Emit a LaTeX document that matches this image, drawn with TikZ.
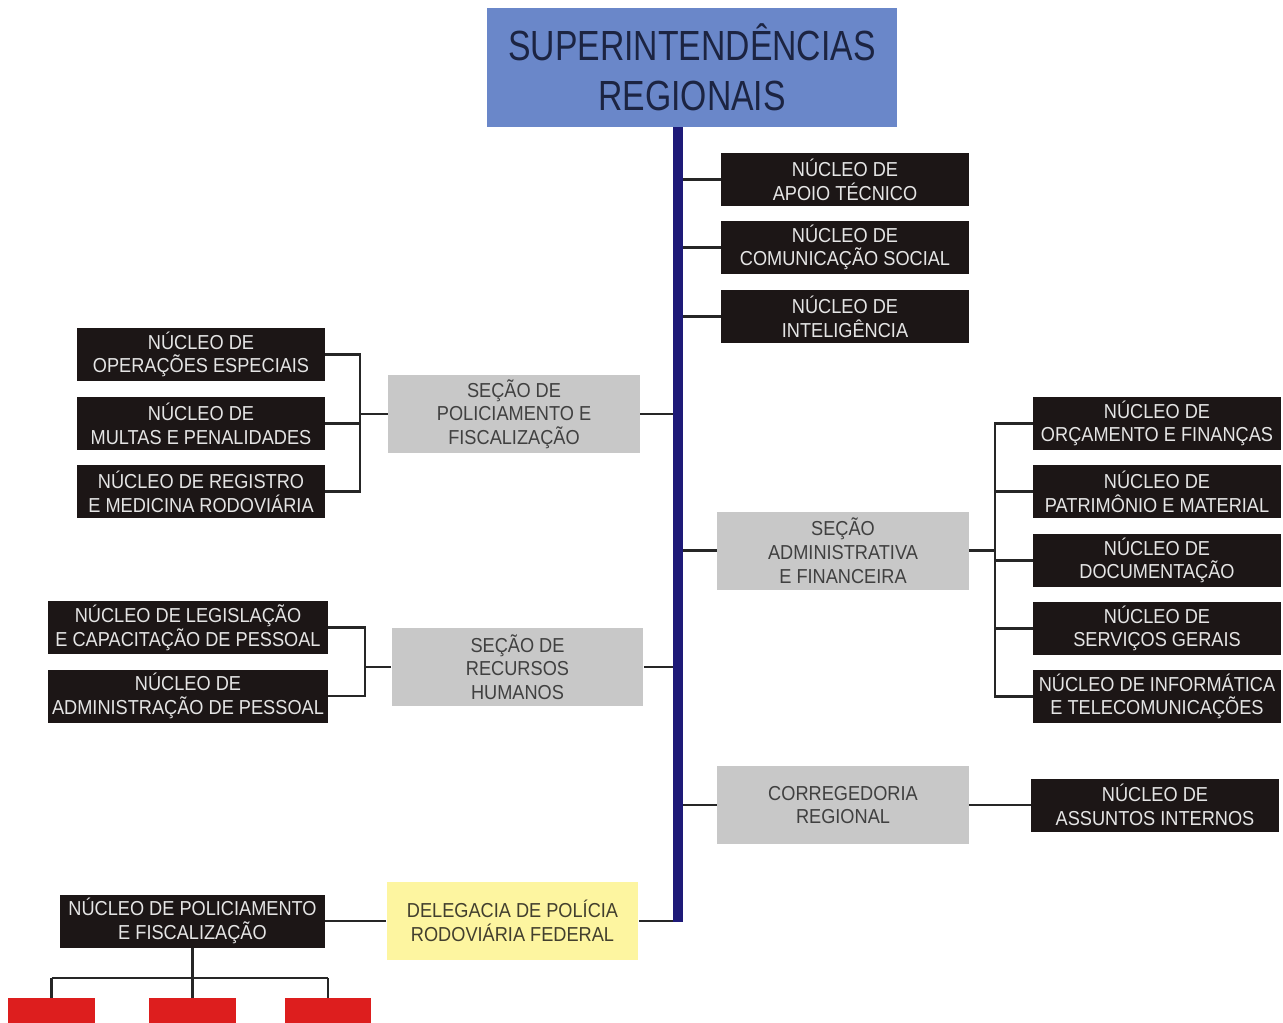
\documentclass[tikz,border=0pt]{standalone}
\usepackage{fontspec}
\setmainfont{Liberation Sans}[FakeStretch=0.9]
\newfontfamily\titlefont{Liberation Sans}[FakeStretch=0.8]
\usepackage{tikz}
\usetikzlibrary{calc,positioning}
\definecolor{supblue}{RGB}{106,135,201}
\definecolor{supink}{RGB}{28,36,66}
\definecolor{trunkblue}{RGB}{30,26,120}
\definecolor{nucfill}{RGB}{28,22,22}
\definecolor{secfill}{RGB}{200,200,200}
\definecolor{delfill}{RGB}{253,245,160}
\definecolor{redfill}{RGB}{221,30,30}

\begin{document}
\begin{tikzpicture}[x=0.02cm, y=-0.02cm,
    nucbox/.style={fill=nucfill, text=white!90!black, inner sep=0pt, align=center,
        minimum width=4.96cm, minimum height=1.06cm, font=\fontsize{11.5}{13.5}\selectfont},
    secbox/.style={fill=secfill, text=black!75, inner sep=0pt, align=center,
        minimum width=5.04cm, minimum height=1.56cm, font=\fontsize{11.5}{13.5}\selectfont},
    redbox/.style={fill=redfill, inner sep=0pt, minimum width=1.74cm, minimum height=0.88cm},
    link/.style={line width=1.6pt, black!85},
    trunk/.style={line width=5.6pt, trunkblue}]
    %% Background
    \useasboundingbox (0,0) rectangle (1283,1022);
    %% Top
    \node[fill=supblue, text=supink, inner sep=0pt, align=center,
        minimum width=8.2cm, minimum height=2.38cm,
        font=\titlefont\fontsize{24}{28.5}\selectfont]
        (sup) at (692,67.5) {SUPERINTENDÊNCIAS\\REGIONAIS};
    \coordinate (trunkx) at (678,127);
    %% Right column, top
    \node[nucbox] (apoio) at (845,179.5) {NÚCLEO DE\\APOIO TÉCNICO};
    \node[nucbox] (comunic) at (845,247.5) {NÚCLEO DE\\COMUNICAÇÃO SOCIAL};
    \node[nucbox] (intel) at (845,316.5) {NÚCLEO DE\\INTELIGÊNCIA};
    %% Policiamento e fiscalizacao
    \node[secbox] (secpol) at (514,414) {SEÇÃO DE\\POLICIAMENTO E\\FISCALIZAÇÃO};
    \node[nucbox] (operesp) at (201,354.5) {NÚCLEO DE\\OPERAÇÕES ESPECIAIS};
    \node[nucbox] (multas) at (201,423.5) {NÚCLEO DE\\MULTAS E PENALIDADES};
    \node[nucbox] (registro) at (201,491.5) {NÚCLEO DE REGISTRO\\E MEDICINA RODOVIÁRIA};
    \coordinate (polbar) at (360,414);
    %% Recursos humanos
    \node[secbox] (secrh) at (517.5,667) {SEÇÃO DE\\RECURSOS\\HUMANOS};
    \node[nucbox, minimum width=5.6cm] (legis) at (188,627.5) {NÚCLEO DE LEGISLAÇÃO\\E CAPACITAÇÃO DE PESSOAL};
    \node[nucbox, minimum width=5.6cm] (admpes) at (188,696) {NÚCLEO DE\\ADMINISTRAÇÃO DE PESSOAL};
    \coordinate (rhbar) at (365,667);
    %% Administrativa e financeira
    \node[secbox] (secadm) at (843,550.5) {SEÇÃO\\ADMINISTRATIVA\\E FINANCEIRA};
    \node[nucbox] (orcam) at (1157,423.5) {NÚCLEO DE\\ORÇAMENTO E FINANÇAS};
    \node[nucbox] (patrim) at (1157,491.5) {NÚCLEO DE\\PATRIMÔNIO E MATERIAL};
    \node[nucbox] (docum) at (1157,560.5) {NÚCLEO DE\\DOCUMENTAÇÃO};
    \node[nucbox] (servger) at (1157,628.5) {NÚCLEO DE\\SERVIÇOS GERAIS};
    \node[nucbox] (informat) at (1157,696.5) {NÚCLEO DE INFORMÁTICA\\E TELECOMUNICAÇÕES};
    \coordinate (admbar) at (995,550.5);
    %% Corregedoria
    \node[secbox] (correg) at (843,805) {CORREGEDORIA\\REGIONAL};
    \node[nucbox] (assuntos) at (1155,805) {NÚCLEO DE\\ASSUNTOS INTERNOS};
    %% Delegacia
    \node[secbox, fill=delfill, text=black!70!olive] (deleg) at (512.5,921) {DELEGACIA DE POLÍCIA\\RODOVIÁRIA FEDERAL};
    \node[nucbox, minimum width=5.3cm] (nucpol) at (192.5,921) {NÚCLEO DE POLICIAMENTO\\E FISCALIZAÇÃO};
    \node[redbox] (red1) at (51.5,1020) {};
    \node[redbox] (red2) at (192.5,1020) {};
    \node[redbox] (red3) at (328,1020) {};
    \coordinate (redbar) at (192.5,978);

    %% Links
    \foreach \n in {apoio,comunic,intel,secpol,secrh,secadm,correg}
        \draw[link] (\n) -- (\n -| trunkx);
    \draw[link] (deleg.east) -- ($(deleg.east -| trunkx)+(3,0)$);
    \draw[trunk] (sup.south -| trunkx) -- ($(trunkx |- deleg.east)+(0,1)$);
    \draw[link] (operesp.east) -- (operesp.east -| polbar) -- (registro.east -| polbar) -- (registro.east);
    \draw[link] (multas.east) -- (multas.east -| polbar);
    \draw[link] (secpol.west) -- (secpol.west -| polbar);
    \draw[link] (legis.east) -- (legis.east -| rhbar) -- (admpes.east -| rhbar) -- (admpes.east);
    \draw[link] (secrh.west) -- (secrh.west -| rhbar);
    \draw[link] (orcam.west) -- (orcam.west -| admbar) -- (informat.west -| admbar) -- (informat.west);
    \foreach \n in {patrim,docum,servger}
        \draw[link] (\n.west) -- (\n.west -| admbar);
    \draw[link] (secadm.east) -- (admbar);
    \draw[link] (correg.east) -- (assuntos.west);
    \draw[link] (deleg.west) -- (nucpol.east);
    \draw[link] (nucpol.south) -- (nucpol.south |- redbar);
    \draw[link] (red1.north |- redbar) -- (red3.north |- redbar);
    \foreach \n in {red1,red2,red3}
        \draw[link] (\n.north) -- (\n.north |- redbar);
\end{tikzpicture}
\end{document}
